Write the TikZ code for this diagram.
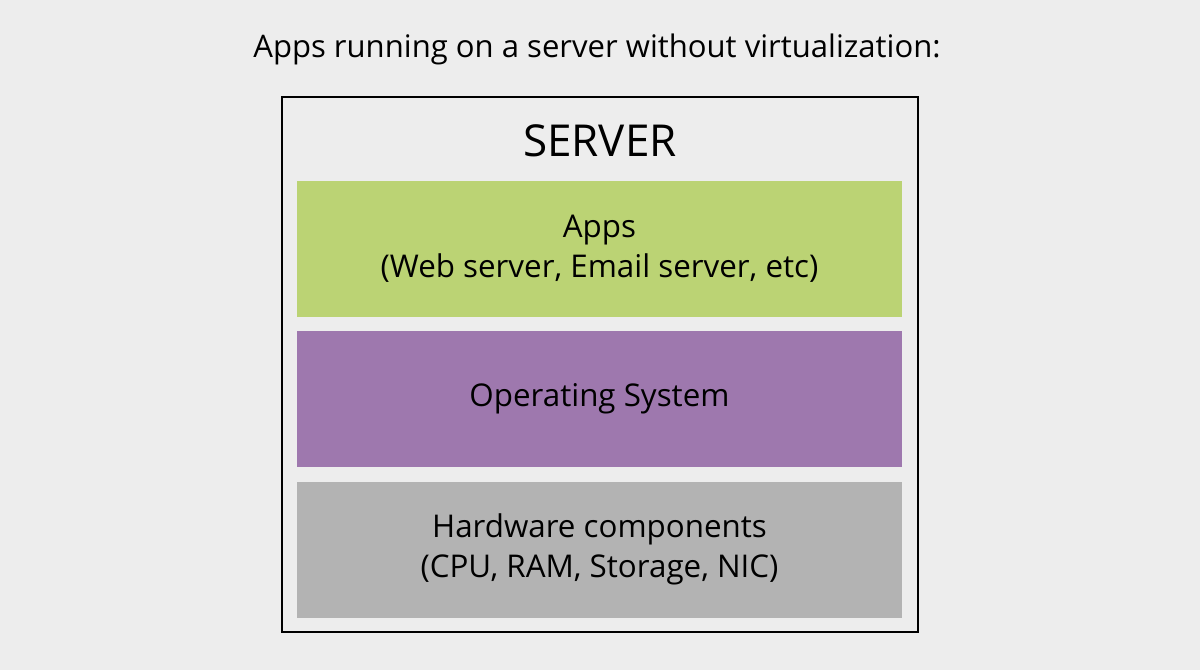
\documentclass[tikz,border=0pt]{standalone}
\usepackage{fontspec}
\setmainfont{Open Sans}
\definecolor{bg}{HTML}{EDEDED}
\definecolor{appg}{HTML}{BBD374}
\definecolor{osp}{HTML}{9E78AE}
\definecolor{hwg}{HTML}{B3B3B3}
\begin{document}
\begin{tikzpicture}[x=0.75pt,y=-0.75pt,
  layer/.style={draw=none,minimum width=605*0.75pt,minimum height=136*0.75pt,inner sep=0pt,align=center,font=\fontsize{23.5}{30}\selectfont}]
\fill[bg] (0,0) rectangle (1200,670);
\useasboundingbox (0,0) rectangle (1200,670);
\node[font=\fontsize{23.3}{26}\selectfont] (title) at (597,49) {Apps running on a server without virtualization:};
\node[draw=black,line width=1.6pt,minimum width=636*0.75pt,minimum height=535*0.75pt,inner sep=0pt] (server) at (600,364.5) {};
\node[font=\fontsize{33}{38}\selectfont] (slabel) at (600,141) {SERVER};
\node[layer,fill=appg] (apps) at (599.5,249) {Apps\\(Web server, Email server, etc)};
\node[layer,fill=osp] (os) at (599.5,399) {Operating System};
\node[layer,fill=hwg] (hw) at (599.5,549.5) {Hardware components\\(CPU, RAM, Storage, NIC)};
\end{tikzpicture}
\end{document}
